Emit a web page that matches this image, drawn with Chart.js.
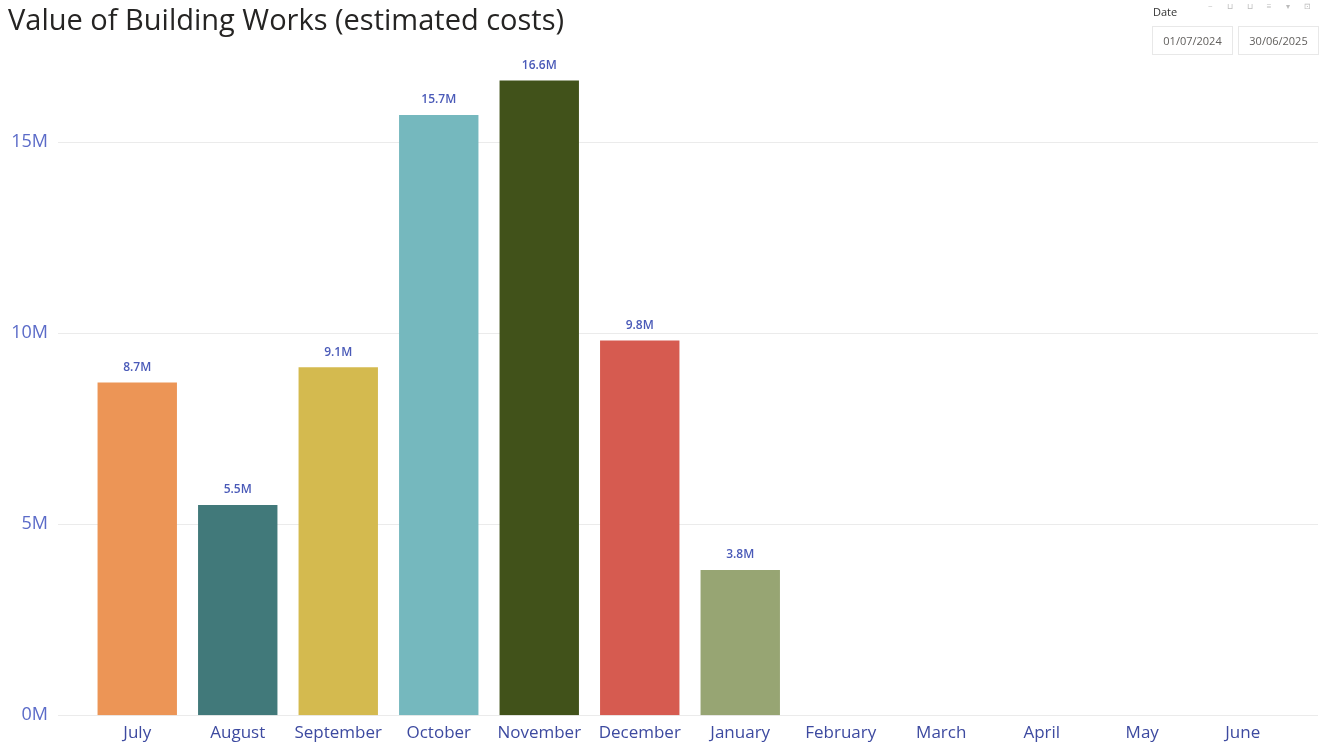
<!DOCTYPE html>
<html>
<head>
<meta charset="utf-8">
<script src="https://cdn.jsdelivr.net/npm/chart.js@4.4.1/dist/chart.umd.min.js"></script>
<style>
body{margin:0;background:#fff;font-family:"Open Sans",sans-serif;}
#wrap{position:relative;width:1322px;height:742px;overflow:hidden;}
#title{position:absolute;left:8px;top:-1px;font-size:29px;color:#252423;white-space:nowrap;}
#dateLbl{position:absolute;left:1153px;top:4px;font-size:11px;color:#333;}
#icons{position:absolute;left:1208px;top:0px;font-size:8px;color:#bbb;letter-spacing:6px;}
.box{position:absolute;top:26px;height:27px;border:1px solid #e8e8e8;font-size:11px;color:#605e5c;line-height:27px;text-align:center;}
canvas{position:absolute;left:0;top:0;}
</style>
</head>
<body>
<div id="wrap">
<canvas id="chart" width="1322" height="757"></canvas>
<div id="title">Value of Building Works (estimated costs)</div>
<div id="dateLbl">Date</div>
<div id="icons">~ ⊔ ⊔ ≡ ▾ ⊡</div>
<div class="box" style="left:1152px;width:79px">01/07/2024</div>
<div class="box" style="left:1238px;width:79px">30/06/2025</div>
</div>
<script>
const months=["July","August","September","October","November","December","January","February","March","April","May","June"];
const valuesM=[8.7,5.5,9.1,15.7,16.6,9.8,3.8,null,null,null,null,null];
const barColors=["#EC9556","#41797A","#D4BA4F","#75B8BE","#41521A","#D65B50","#97A573","#ccc","#ccc","#ccc","#ccc","#ccc"];
const yTicks=[0,5,10,15];

const gridPlugin={
  id:"wideGrid",
  beforeDatasetsDraw(chart){
    const ctx=chart.ctx,y=chart.scales.y;
    ctx.save();
    ctx.strokeStyle="#ebebeb";
    ctx.lineWidth=1;
    yTicks.forEach(t=>{
      const py=Math.round(y.getPixelForValue(t))+0.5;
      ctx.beginPath();ctx.moveTo(58,py);ctx.lineTo(1318,py);ctx.stroke();
    });
    ctx.restore();
  }
};

const labelPlugin={
  id:"barLabels",
  afterDatasetsDraw(chart){
    const ctx=chart.ctx;
    const meta=chart.getDatasetMeta(0);
    ctx.save();
    ctx.font="600 12px 'Open Sans'";
    ctx.fillStyle="#4a5ab8";
    ctx.textAlign="center";
    ctx.textBaseline="bottom";
    meta.data.forEach((bar,i)=>{
      if(valuesM[i]==null)return;
      ctx.fillText(valuesM[i].toFixed(1)+"M",bar.x,bar.y-9);
    });
    ctx.restore();
  }
};

new Chart(document.getElementById("chart"),{
  type:"bar",
  data:{
    labels:months,
    datasets:[{
      data:valuesM,
      backgroundColor:barColors,
      categoryPercentage:1,
      barPercentage:0.79
    }]
  },
  options:{
    responsive:false,
    animation:false,
    layout:{padding:{top:50,right:29,left:0,bottom:0}},
    plugins:{legend:{display:false},tooltip:{enabled:false}},
    scales:{
      x:{
        grid:{display:false},
        border:{display:false},
        ticks:{color:"#3d4aa0",font:{family:"Open Sans",size:17},padding:0,maxRotation:0},
        afterFit(s){s.height=28;}
      },
      y:{
        min:0,max:17.4,
        grid:{display:false},
        border:{display:false},
        ticks:{stepSize:5,color:"#5b6bc8",font:{family:"Open Sans",size:18},padding:31,callback:v=>v+"M"},
        afterBuildTicks(s){s.ticks=yTicks.map(v=>({value:v}));},
        afterFit(s){s.width=87;}
      }
    }
  },
  plugins:[gridPlugin,labelPlugin]
});
</script>
</body>
</html>
